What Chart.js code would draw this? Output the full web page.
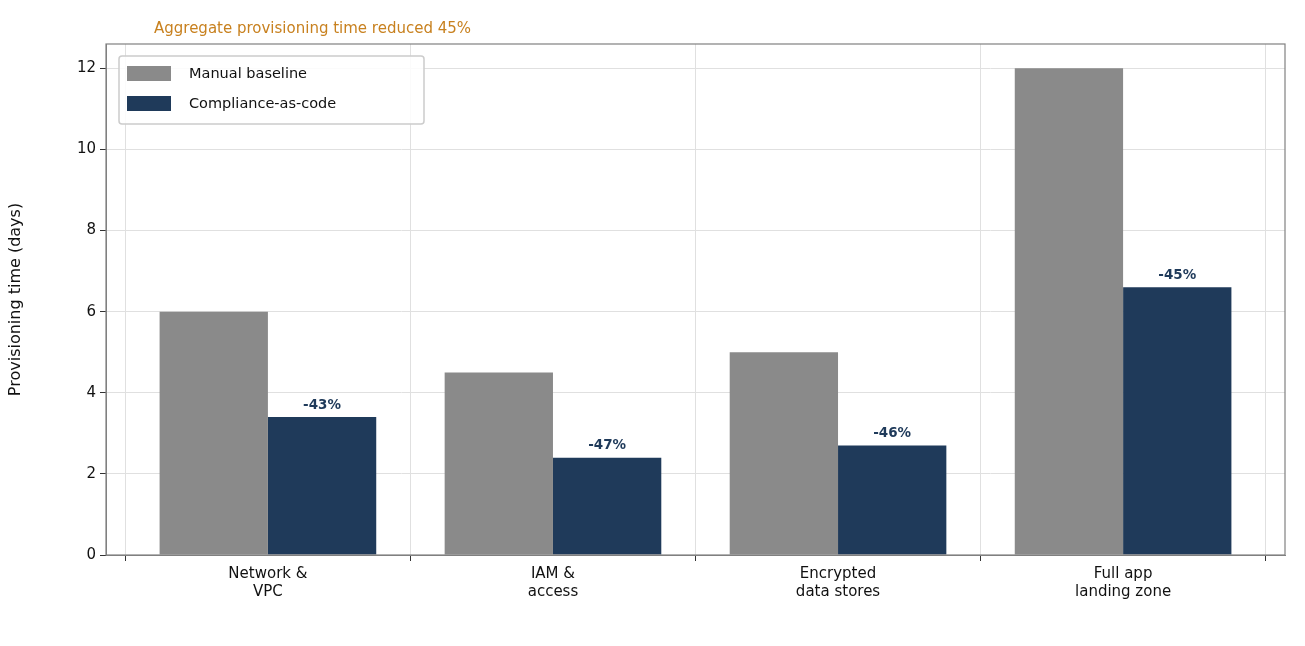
<!DOCTYPE html>
<html><head><meta charset="utf-8">
<script src="https://cdn.jsdelivr.net/npm/chart.js@4/dist/chart.umd.min.js"></script>
<style>html,body{margin:0;background:#fff}#wrap{width:1305px;height:646px}</style>
</head><body><div id="wrap"><canvas id="c"></canvas></div>
<script>
const categories = [['Network &', 'VPC'], ['IAM &', 'access'], ['Encrypted', 'data stores'], ['Full app', 'landing zone']];
const manualBaseline = [6.0, 4.5, 5.0, 12.0];
const complianceAsCode = [3.4, 2.4, 2.7, 6.6];
const reductionLabels = ['-43%', '-47%', '-46%', '-45%'];
const yTicks = [0, 2, 4, 6, 8, 10, 12];
const GREY = '#8a8a8a', NAVY = '#1f3a5a';
const FONT = 'DejaVu Sans';

const overlay = {
  id: 'overlay',
  afterDatasetsDraw(chart) {
    const { ctx, chartArea: a } = chart;
    ctx.save();
    // frame
    ctx.strokeStyle = '#808080'; ctx.lineWidth = 1.2;
    ctx.strokeRect(a.left, a.top, a.right - a.left, a.bottom - a.top);
    // bar annotations
    const meta = chart.getDatasetMeta(1);
    ctx.fillStyle = NAVY; ctx.font = 'bold 13.5px ' + FONT;
    ctx.textAlign = 'center'; ctx.textBaseline = 'bottom';
    meta.data.forEach((bar, i) => ctx.fillText(reductionLabels[i], bar.x, bar.y - 5));
    // title
    ctx.fillStyle = '#c8811f'; ctx.font = '15px ' + FONT;
    ctx.textAlign = 'left'; ctx.textBaseline = 'middle';
    ctx.fillText('Aggregate provisioning time reduced 45%', 154, 29);
    // legend
    const lx = a.left + 13, ly = a.top + 12;
    ctx.fillStyle = 'rgba(255,255,255,0.85)';
    ctx.strokeStyle = '#cccccc'; ctx.lineWidth = 1.5;
    ctx.beginPath(); ctx.roundRect(lx, ly, 305, 68, 3); ctx.fill(); ctx.stroke();
    const items = [['Manual baseline', GREY], ['Compliance-as-code', NAVY]];
    ctx.font = '14.5px ' + FONT;
    items.forEach(([t, col], i) => {
      const y = ly + 17 + i * 30;
      ctx.fillStyle = col; ctx.fillRect(lx + 8, y - 7, 44, 15);
      ctx.fillStyle = '#111'; ctx.fillText(t, lx + 70, y + 1);
    });
    ctx.restore();
  }
};

new Chart(document.getElementById('c'), {
  type: 'bar',
  data: {
    datasets: [
      { label: 'Manual baseline', data: manualBaseline.map((v, i) => ({ x: i, y: v })), backgroundColor: GREY },
      { label: 'Compliance-as-code', data: complianceAsCode.map((v, i) => ({ x: i, y: v })), backgroundColor: NAVY }
    ]
  },
  options: {
    responsive: true, maintainAspectRatio: false, animation: false,
    categoryPercentage: 0.76, barPercentage: 1,
    layout: { padding: { top: 44, right: 20, bottom: 12, left: 0 } },
    plugins: { legend: { display: false }, tooltip: { enabled: false } },
    scales: {
      x: {
        type: 'linear', min: -0.568, max: 3.568, offset: false,
        afterBuildTicks: s => { s.ticks = [0, 1, 2, 3].map(v => ({ value: v })); },
        ticks: { color: '#111', font: { family: FONT, size: 15 }, padding: 4, maxRotation: 0,
                 callback: v => categories[v] },
        grid: { color: '#e0e0e0', tickColor: '#333', tickLength: 6 },
        border: { color: '#808080' },
        afterFit: s => { s.height = 79; }
      },
      y: {
        min: 0, max: 12.6,
        afterBuildTicks: s => { s.ticks = yTicks.map(v => ({ value: v })); },
        ticks: { color: '#111', font: { family: FONT, size: 15 }, padding: 4 },
        grid: { color: '#e0e0e0', tickColor: '#333', tickLength: 6 },
        border: { color: '#808080' },
        title: { display: true, text: 'Provisioning time (days)', color: '#111', font: { family: FONT, size: 16 }, padding: 6 },
        afterFit: s => { s.width = 106; }
      }
    }
  },
  plugins: [overlay]
});
</script></body></html>
